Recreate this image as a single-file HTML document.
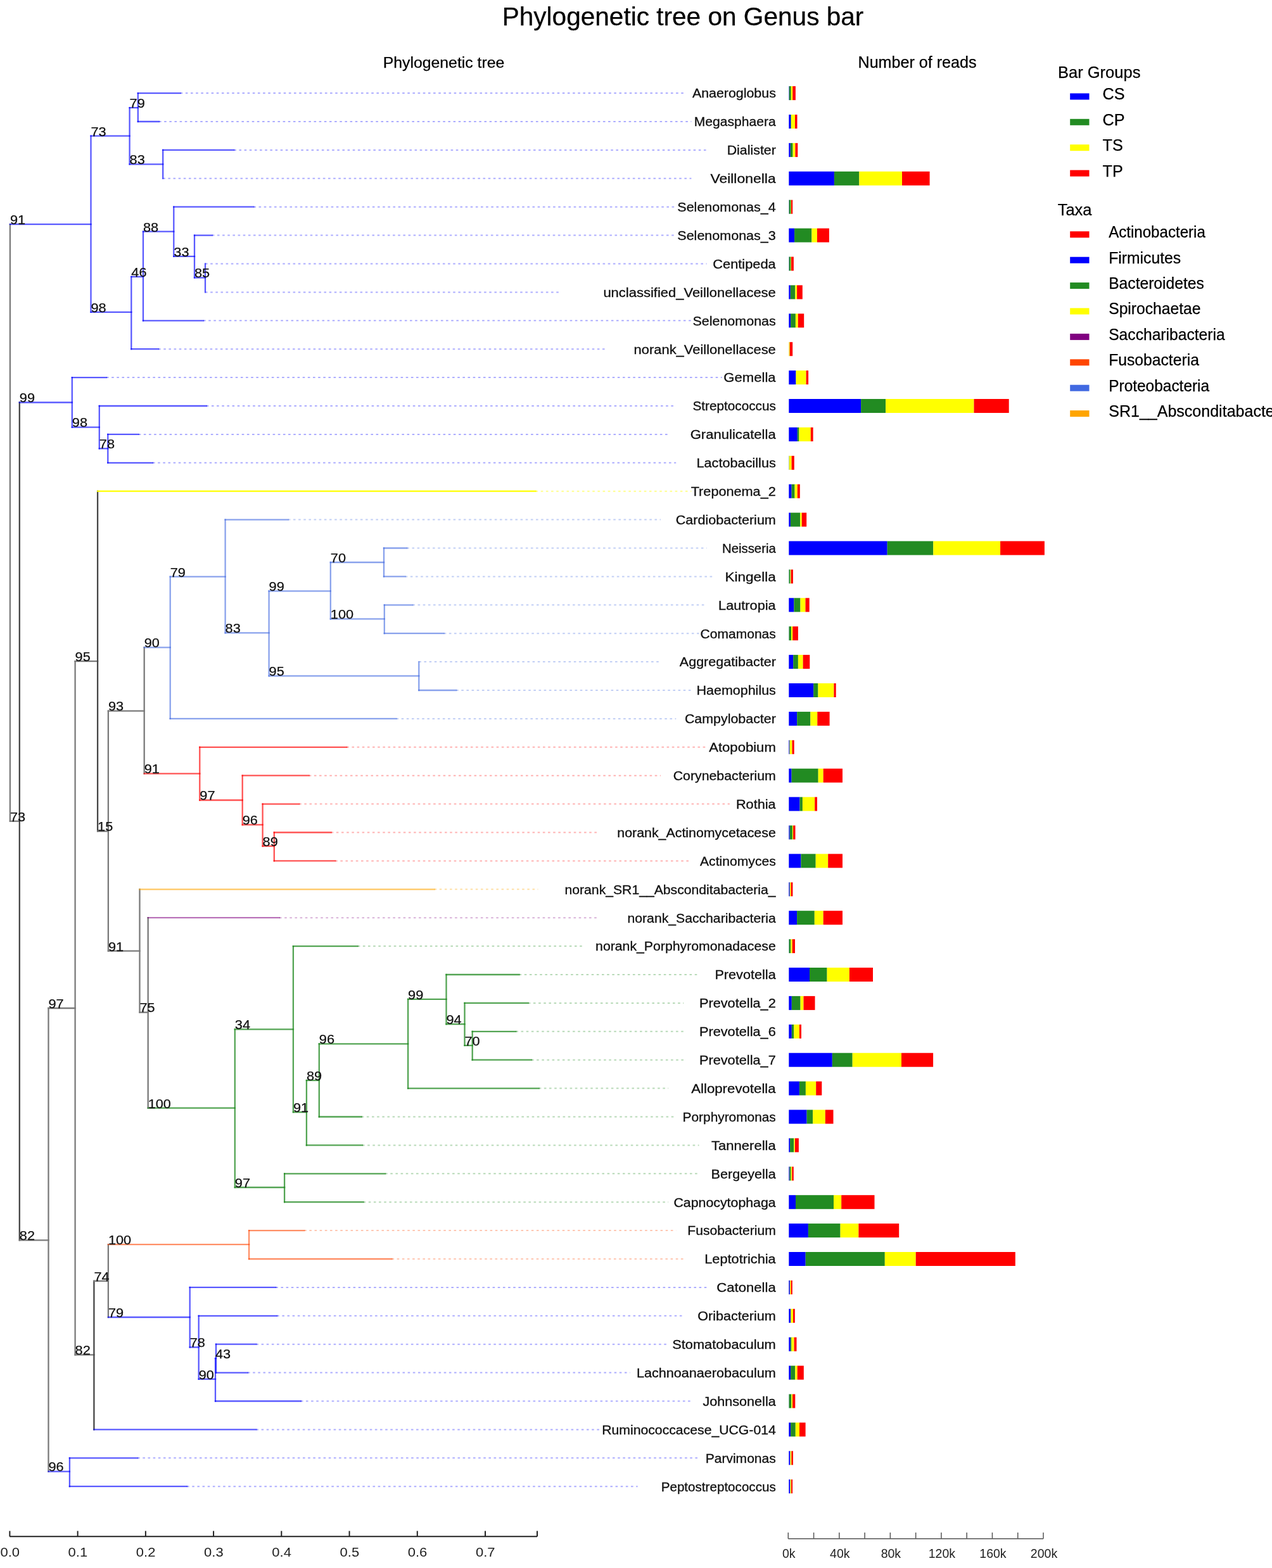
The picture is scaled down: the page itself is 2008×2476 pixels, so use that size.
<!DOCTYPE html>
<html><head><meta charset="utf-8"><title>Phylogenetic tree on Genus bar</title>
<style>html,body{margin:0;padding:0;background:#fff;width:2008px;height:2476px;overflow:hidden}svg{display:block}</style>
</head><body>
<svg width="2008" height="2476" viewBox="0 0 2008 2476">
<rect width="100%" height="100%" fill="#fff"/>
<g font-family="Liberation Sans, Arial, sans-serif" fill="#000" stroke="#000" stroke-width="0.25">
<text x="1078" y="39.6" font-size="40.6" text-anchor="middle">Phylogenetic tree on Genus bar</text>
<text x="700.5" y="106.6" font-size="24.8" text-anchor="middle">Phylogenetic tree</text>
<text x="1448" y="106.6" font-size="25.1" text-anchor="middle">Number of reads</text>
</g>
<g stroke-width="2" stroke-dasharray="3.6 4.55" fill="none">
<line x1="284.7" y1="147.1" x2="1079.3" y2="147.1" stroke="rgba(0,0,255,0.32)"/>
<line x1="251" y1="192" x2="1091.4" y2="192" stroke="rgba(0,0,255,0.32)"/>
<line x1="369.3" y1="236.9" x2="1115.6" y2="236.9" stroke="rgba(0,0,255,0.32)"/>
<line x1="257.2" y1="281.8" x2="1091.4" y2="281.8" stroke="rgba(0,0,255,0.32)"/>
<line x1="400.4" y1="326.7" x2="1067.2" y2="326.7" stroke="rgba(0,0,255,0.32)"/>
<line x1="334.8" y1="371.6" x2="1067.2" y2="371.6" stroke="rgba(0,0,255,0.32)"/>
<line x1="324" y1="416.5" x2="1115.6" y2="416.5" stroke="rgba(0,0,255,0.32)"/>
<line x1="324" y1="461.4" x2="885.7" y2="461.4" stroke="rgba(0,0,255,0.32)"/>
<line x1="321" y1="506.3" x2="1091.4" y2="506.3" stroke="rgba(0,0,255,0.32)"/>
<line x1="250.1" y1="551.2" x2="958.3" y2="551.2" stroke="rgba(0,0,255,0.32)"/>
<line x1="168" y1="596.1" x2="1139.8" y2="596.1" stroke="rgba(0,0,255,0.32)"/>
<line x1="325.8" y1="641" x2="1067.2" y2="641" stroke="rgba(0,0,255,0.32)"/>
<line x1="218.7" y1="685.9" x2="1055.1" y2="685.9" stroke="rgba(0,0,255,0.32)"/>
<line x1="241" y1="730.8" x2="1067.2" y2="730.8" stroke="rgba(0,0,255,0.32)"/>
<line x1="845.6" y1="775.7" x2="1091.4" y2="775.7" stroke="rgba(255,255,0,0.45)"/>
<line x1="454.8" y1="820.6" x2="1043" y2="820.6" stroke="rgba(65,105,225,0.32)"/>
<line x1="642.3" y1="865.5" x2="1115.6" y2="865.5" stroke="rgba(65,105,225,0.32)"/>
<line x1="639.7" y1="910.4" x2="1127.7" y2="910.4" stroke="rgba(65,105,225,0.32)"/>
<line x1="651.4" y1="955.3" x2="1115.6" y2="955.3" stroke="rgba(65,105,225,0.32)"/>
<line x1="700.7" y1="1000.2" x2="1115.6" y2="1000.2" stroke="rgba(65,105,225,0.32)"/>
<line x1="661.3" y1="1045.1" x2="1043" y2="1045.1" stroke="rgba(65,105,225,0.32)"/>
<line x1="720.1" y1="1090" x2="1091.4" y2="1090" stroke="rgba(65,105,225,0.32)"/>
<line x1="625.5" y1="1134.9" x2="1067.2" y2="1134.9" stroke="rgba(65,105,225,0.32)"/>
<line x1="547.3" y1="1179.8" x2="1115.6" y2="1179.8" stroke="rgba(255,0,0,0.3)"/>
<line x1="487.7" y1="1224.7" x2="1043" y2="1224.7" stroke="rgba(255,0,0,0.3)"/>
<line x1="472.2" y1="1269.6" x2="1151.9" y2="1269.6" stroke="rgba(255,0,0,0.3)"/>
<line x1="522.7" y1="1314.5" x2="946.2" y2="1314.5" stroke="rgba(255,0,0,0.3)"/>
<line x1="529.2" y1="1359.4" x2="1091.4" y2="1359.4" stroke="rgba(255,0,0,0.3)"/>
<line x1="685.6" y1="1404.3" x2="849.4" y2="1404.3" stroke="rgba(255,165,0,0.35)"/>
<line x1="441" y1="1449.2" x2="946.2" y2="1449.2" stroke="rgba(128,0,128,0.3)"/>
<line x1="564.7" y1="1494.1" x2="922" y2="1494.1" stroke="rgba(34,139,34,0.32)"/>
<line x1="819.6" y1="1539" x2="1103.5" y2="1539" stroke="rgba(34,139,34,0.32)"/>
<line x1="833.8" y1="1583.9" x2="1079.3" y2="1583.9" stroke="rgba(34,139,34,0.32)"/>
<line x1="814.4" y1="1628.8" x2="1079.3" y2="1628.8" stroke="rgba(34,139,34,0.32)"/>
<line x1="839" y1="1673.7" x2="1079.3" y2="1673.7" stroke="rgba(34,139,34,0.32)"/>
<line x1="850.7" y1="1718.6" x2="1055.1" y2="1718.6" stroke="rgba(34,139,34,0.32)"/>
<line x1="570.7" y1="1763.5" x2="1067.2" y2="1763.5" stroke="rgba(34,139,34,0.32)"/>
<line x1="572" y1="1808.4" x2="1103.5" y2="1808.4" stroke="rgba(34,139,34,0.32)"/>
<line x1="608.1" y1="1853.3" x2="1103.5" y2="1853.3" stroke="rgba(34,139,34,0.32)"/>
<line x1="573.6" y1="1898.2" x2="1055.1" y2="1898.2" stroke="rgba(34,139,34,0.32)"/>
<line x1="480.2" y1="1943.1" x2="1067.2" y2="1943.1" stroke="rgba(255,69,0,0.3)"/>
<line x1="618.5" y1="1988" x2="1079.3" y2="1988" stroke="rgba(255,69,0,0.3)"/>
<line x1="435.3" y1="2032.9" x2="1115.6" y2="2032.9" stroke="rgba(0,0,255,0.32)"/>
<line x1="437.2" y1="2077.8" x2="1079.3" y2="2077.8" stroke="rgba(0,0,255,0.32)"/>
<line x1="404.4" y1="2122.7" x2="1055.1" y2="2122.7" stroke="rgba(0,0,255,0.32)"/>
<line x1="391" y1="2167.6" x2="994.6" y2="2167.6" stroke="rgba(0,0,255,0.32)"/>
<line x1="474.8" y1="2212.5" x2="1091.4" y2="2212.5" stroke="rgba(0,0,255,0.32)"/>
<line x1="404.4" y1="2257.4" x2="946.2" y2="2257.4" stroke="rgba(0,0,255,0.32)"/>
<line x1="217.2" y1="2302.3" x2="1103.5" y2="2302.3" stroke="rgba(0,0,255,0.32)"/>
<line x1="295.1" y1="2347.2" x2="1006.7" y2="2347.2" stroke="rgba(0,0,255,0.32)"/>
</g>
<g stroke-width="2.3" fill="none" stroke-linecap="square">
<line x1="15.9" y1="354.1" x2="15.9" y2="1296.7" stroke="#7a7a7a"/>
<line x1="15.9" y1="354.1" x2="143.5" y2="354.1" stroke="rgba(0,0,255,0.65)"/>
<line x1="15.9" y1="1296.7" x2="30.8" y2="1296.7" stroke="#7a7a7a"/>
<line x1="143.5" y1="214.7" x2="143.5" y2="492.9" stroke="rgba(0,0,255,0.65)"/>
<line x1="143.5" y1="214.7" x2="204.6" y2="214.7" stroke="rgba(0,0,255,0.65)"/>
<line x1="143.5" y1="492.9" x2="207.3" y2="492.9" stroke="rgba(0,0,255,0.65)"/>
<line x1="204.6" y1="170.1" x2="204.6" y2="259.3" stroke="rgba(0,0,255,0.65)"/>
<line x1="204.6" y1="170.1" x2="217.8" y2="170.1" stroke="rgba(0,0,255,0.65)"/>
<line x1="204.6" y1="259.3" x2="257.2" y2="259.3" stroke="rgba(0,0,255,0.65)"/>
<line x1="217.8" y1="147.1" x2="217.8" y2="192" stroke="rgba(0,0,255,0.65)"/>
<line x1="217.8" y1="147.1" x2="284.7" y2="147.1" stroke="rgba(0,0,255,0.65)"/>
<line x1="217.8" y1="192" x2="251" y2="192" stroke="rgba(0,0,255,0.65)"/>
<line x1="257.2" y1="236.9" x2="257.2" y2="281.8" stroke="rgba(0,0,255,0.65)"/>
<line x1="257.2" y1="236.9" x2="369.3" y2="236.9" stroke="rgba(0,0,255,0.65)"/>
<line x1="207.3" y1="437" x2="207.3" y2="551.2" stroke="rgba(0,0,255,0.65)"/>
<line x1="207.3" y1="437" x2="226" y2="437" stroke="rgba(0,0,255,0.65)"/>
<line x1="207.3" y1="551.2" x2="250.1" y2="551.2" stroke="rgba(0,0,255,0.65)"/>
<line x1="226" y1="365.7" x2="226" y2="506.3" stroke="rgba(0,0,255,0.65)"/>
<line x1="226" y1="365.7" x2="274.3" y2="365.7" stroke="rgba(0,0,255,0.65)"/>
<line x1="226" y1="506.3" x2="321" y2="506.3" stroke="rgba(0,0,255,0.65)"/>
<line x1="274.3" y1="326.7" x2="274.3" y2="404.9" stroke="rgba(0,0,255,0.65)"/>
<line x1="274.3" y1="326.7" x2="400.4" y2="326.7" stroke="rgba(0,0,255,0.65)"/>
<line x1="274.3" y1="404.9" x2="307" y2="404.9" stroke="rgba(0,0,255,0.65)"/>
<line x1="307" y1="371.6" x2="307" y2="438.5" stroke="rgba(0,0,255,0.65)"/>
<line x1="307" y1="371.6" x2="334.8" y2="371.6" stroke="rgba(0,0,255,0.65)"/>
<line x1="307" y1="438.5" x2="324" y2="438.5" stroke="rgba(0,0,255,0.65)"/>
<line x1="324" y1="416.5" x2="324" y2="461.4" stroke="rgba(0,0,255,0.65)"/>
<line x1="30.8" y1="635.5" x2="30.8" y2="1958.4" stroke="#454545"/>
<line x1="30.8" y1="635.5" x2="113.8" y2="635.5" stroke="rgba(0,0,255,0.65)"/>
<line x1="30.8" y1="1958.4" x2="76.5" y2="1958.4" stroke="#7a7a7a"/>
<line x1="113.8" y1="596.1" x2="113.8" y2="674.6" stroke="rgba(0,0,255,0.65)"/>
<line x1="113.8" y1="596.1" x2="168" y2="596.1" stroke="rgba(0,0,255,0.65)"/>
<line x1="113.8" y1="674.6" x2="156.8" y2="674.6" stroke="rgba(0,0,255,0.65)"/>
<line x1="156.8" y1="641" x2="156.8" y2="708.3" stroke="rgba(0,0,255,0.65)"/>
<line x1="156.8" y1="641" x2="325.8" y2="641" stroke="rgba(0,0,255,0.65)"/>
<line x1="156.8" y1="708.3" x2="170.3" y2="708.3" stroke="rgba(0,0,255,0.65)"/>
<line x1="170.3" y1="685.9" x2="170.3" y2="730.8" stroke="rgba(0,0,255,0.65)"/>
<line x1="170.3" y1="685.9" x2="218.7" y2="685.9" stroke="rgba(0,0,255,0.65)"/>
<line x1="170.3" y1="730.8" x2="241" y2="730.8" stroke="rgba(0,0,255,0.65)"/>
<line x1="76.5" y1="1592" x2="76.5" y2="2323.6" stroke="#7a7a7a"/>
<line x1="76.5" y1="1592" x2="118.6" y2="1592" stroke="#7a7a7a"/>
<line x1="76.5" y1="2323.6" x2="109.9" y2="2323.6" stroke="rgba(0,0,255,0.65)"/>
<line x1="118.6" y1="1044.1" x2="118.6" y2="2139.4" stroke="#7a7a7a"/>
<line x1="118.6" y1="1044.1" x2="154.1" y2="1044.1" stroke="#7a7a7a"/>
<line x1="118.6" y1="2139.4" x2="148.4" y2="2139.4" stroke="#7a7a7a"/>
<line x1="154.1" y1="775.7" x2="154.1" y2="1312.6" stroke="#454545"/>
<line x1="154.1" y1="775.7" x2="845.6" y2="775.7" stroke="rgba(255,255,0,1)"/>
<line x1="154.1" y1="1312.6" x2="170.9" y2="1312.6" stroke="#7a7a7a"/>
<line x1="170.9" y1="1122.6" x2="170.9" y2="1501.7" stroke="#7a7a7a"/>
<line x1="170.9" y1="1122.6" x2="227.7" y2="1122.6" stroke="#7a7a7a"/>
<line x1="170.9" y1="1501.7" x2="220.5" y2="1501.7" stroke="#7a7a7a"/>
<line x1="227.7" y1="1022.4" x2="227.7" y2="1221.6" stroke="#7a7a7a"/>
<line x1="227.7" y1="1022.4" x2="268.7" y2="1022.4" stroke="rgba(65,105,225,0.62)"/>
<line x1="227.7" y1="1221.6" x2="315.3" y2="1221.6" stroke="rgba(255,0,0,0.68)"/>
<line x1="268.7" y1="910.7" x2="268.7" y2="1134.9" stroke="rgba(65,105,225,0.62)"/>
<line x1="268.7" y1="910.7" x2="355.6" y2="910.7" stroke="rgba(65,105,225,0.62)"/>
<line x1="268.7" y1="1134.9" x2="625.5" y2="1134.9" stroke="rgba(65,105,225,0.62)"/>
<line x1="355.6" y1="820.6" x2="355.6" y2="999.4" stroke="rgba(65,105,225,0.62)"/>
<line x1="355.6" y1="820.6" x2="454.8" y2="820.6" stroke="rgba(65,105,225,0.62)"/>
<line x1="355.6" y1="999.4" x2="424.6" y2="999.4" stroke="rgba(65,105,225,0.62)"/>
<line x1="424.6" y1="933.3" x2="424.6" y2="1067.3" stroke="rgba(65,105,225,0.62)"/>
<line x1="424.6" y1="933.3" x2="521.8" y2="933.3" stroke="rgba(65,105,225,0.62)"/>
<line x1="424.6" y1="1067.3" x2="661.3" y2="1067.3" stroke="rgba(65,105,225,0.62)"/>
<line x1="521.8" y1="888" x2="521.8" y2="977.4" stroke="rgba(65,105,225,0.62)"/>
<line x1="521.8" y1="888" x2="606" y2="888" stroke="rgba(65,105,225,0.62)"/>
<line x1="521.8" y1="977.4" x2="606.8" y2="977.4" stroke="rgba(65,105,225,0.62)"/>
<line x1="606" y1="865.5" x2="606" y2="910.4" stroke="rgba(65,105,225,0.62)"/>
<line x1="606" y1="865.5" x2="642.3" y2="865.5" stroke="rgba(65,105,225,0.62)"/>
<line x1="606" y1="910.4" x2="639.7" y2="910.4" stroke="rgba(65,105,225,0.62)"/>
<line x1="606.8" y1="955.3" x2="606.8" y2="1000.2" stroke="rgba(65,105,225,0.62)"/>
<line x1="606.8" y1="955.3" x2="651.4" y2="955.3" stroke="rgba(65,105,225,0.62)"/>
<line x1="606.8" y1="1000.2" x2="700.7" y2="1000.2" stroke="rgba(65,105,225,0.62)"/>
<line x1="661.3" y1="1045.1" x2="661.3" y2="1090" stroke="rgba(65,105,225,0.62)"/>
<line x1="661.3" y1="1090" x2="720.1" y2="1090" stroke="rgba(65,105,225,0.62)"/>
<line x1="315.3" y1="1179.8" x2="315.3" y2="1263.5" stroke="rgba(255,0,0,0.68)"/>
<line x1="315.3" y1="1179.8" x2="547.3" y2="1179.8" stroke="rgba(255,0,0,0.68)"/>
<line x1="315.3" y1="1263.5" x2="382.7" y2="1263.5" stroke="rgba(255,0,0,0.68)"/>
<line x1="382.7" y1="1224.7" x2="382.7" y2="1302.4" stroke="rgba(255,0,0,0.68)"/>
<line x1="382.7" y1="1224.7" x2="487.7" y2="1224.7" stroke="rgba(255,0,0,0.68)"/>
<line x1="382.7" y1="1302.4" x2="414.6" y2="1302.4" stroke="rgba(255,0,0,0.68)"/>
<line x1="414.6" y1="1269.6" x2="414.6" y2="1336.1" stroke="rgba(255,0,0,0.68)"/>
<line x1="414.6" y1="1269.6" x2="472.2" y2="1269.6" stroke="rgba(255,0,0,0.68)"/>
<line x1="414.6" y1="1336.1" x2="432.8" y2="1336.1" stroke="rgba(255,0,0,0.68)"/>
<line x1="432.8" y1="1314.5" x2="432.8" y2="1359.4" stroke="rgba(255,0,0,0.68)"/>
<line x1="432.8" y1="1314.5" x2="522.7" y2="1314.5" stroke="rgba(255,0,0,0.68)"/>
<line x1="432.8" y1="1359.4" x2="529.2" y2="1359.4" stroke="rgba(255,0,0,0.68)"/>
<line x1="220.5" y1="1404.3" x2="220.5" y2="1598.6" stroke="#7a7a7a"/>
<line x1="220.5" y1="1404.3" x2="685.6" y2="1404.3" stroke="rgba(255,165,0,0.62)"/>
<line x1="220.5" y1="1598.6" x2="233.7" y2="1598.6" stroke="#7a7a7a"/>
<line x1="233.7" y1="1449.2" x2="233.7" y2="1749.7" stroke="#7a7a7a"/>
<line x1="233.7" y1="1449.2" x2="441" y2="1449.2" stroke="rgba(128,0,128,0.55)"/>
<line x1="233.7" y1="1749.7" x2="370.8" y2="1749.7" stroke="rgba(34,139,34,0.78)"/>
<line x1="370.8" y1="1625.3" x2="370.8" y2="1875" stroke="rgba(34,139,34,0.78)"/>
<line x1="370.8" y1="1625.3" x2="462.9" y2="1625.3" stroke="rgba(34,139,34,0.78)"/>
<line x1="370.8" y1="1875" x2="449.1" y2="1875" stroke="rgba(34,139,34,0.78)"/>
<line x1="462.9" y1="1494.1" x2="462.9" y2="1756.2" stroke="rgba(34,139,34,0.78)"/>
<line x1="462.9" y1="1494.1" x2="564.7" y2="1494.1" stroke="rgba(34,139,34,0.78)"/>
<line x1="462.9" y1="1756.2" x2="483.9" y2="1756.2" stroke="rgba(34,139,34,0.78)"/>
<line x1="483.9" y1="1706" x2="483.9" y2="1808.4" stroke="rgba(34,139,34,0.78)"/>
<line x1="483.9" y1="1706" x2="503.8" y2="1706" stroke="rgba(34,139,34,0.78)"/>
<line x1="483.9" y1="1808.4" x2="572" y2="1808.4" stroke="rgba(34,139,34,0.78)"/>
<line x1="503.8" y1="1648.3" x2="503.8" y2="1763.5" stroke="rgba(34,139,34,0.78)"/>
<line x1="503.8" y1="1648.3" x2="644.1" y2="1648.3" stroke="rgba(34,139,34,0.78)"/>
<line x1="503.8" y1="1763.5" x2="570.7" y2="1763.5" stroke="rgba(34,139,34,0.78)"/>
<line x1="644.1" y1="1577.8" x2="644.1" y2="1718.6" stroke="rgba(34,139,34,0.78)"/>
<line x1="644.1" y1="1577.8" x2="704.5" y2="1577.8" stroke="rgba(34,139,34,0.78)"/>
<line x1="644.1" y1="1718.6" x2="850.7" y2="1718.6" stroke="rgba(34,139,34,0.78)"/>
<line x1="704.5" y1="1539" x2="704.5" y2="1617.2" stroke="rgba(34,139,34,0.78)"/>
<line x1="704.5" y1="1539" x2="819.6" y2="1539" stroke="rgba(34,139,34,0.78)"/>
<line x1="704.5" y1="1617.2" x2="733.5" y2="1617.2" stroke="rgba(34,139,34,0.78)"/>
<line x1="733.5" y1="1583.9" x2="733.5" y2="1650.9" stroke="rgba(34,139,34,0.78)"/>
<line x1="733.5" y1="1583.9" x2="833.8" y2="1583.9" stroke="rgba(34,139,34,0.78)"/>
<line x1="733.5" y1="1650.9" x2="745.7" y2="1650.9" stroke="rgba(34,139,34,0.78)"/>
<line x1="745.7" y1="1628.8" x2="745.7" y2="1673.7" stroke="rgba(34,139,34,0.78)"/>
<line x1="745.7" y1="1628.8" x2="814.4" y2="1628.8" stroke="rgba(34,139,34,0.78)"/>
<line x1="745.7" y1="1673.7" x2="839" y2="1673.7" stroke="rgba(34,139,34,0.78)"/>
<line x1="449.1" y1="1853.3" x2="449.1" y2="1898.2" stroke="rgba(34,139,34,0.78)"/>
<line x1="449.1" y1="1853.3" x2="608.1" y2="1853.3" stroke="rgba(34,139,34,0.78)"/>
<line x1="449.1" y1="1898.2" x2="573.6" y2="1898.2" stroke="rgba(34,139,34,0.78)"/>
<line x1="148.4" y1="2022.8" x2="148.4" y2="2257.4" stroke="#454545"/>
<line x1="148.4" y1="2022.8" x2="170.9" y2="2022.8" stroke="#7a7a7a"/>
<line x1="148.4" y1="2257.4" x2="404.4" y2="2257.4" stroke="rgba(0,0,255,0.65)"/>
<line x1="170.9" y1="1965.2" x2="170.9" y2="2080" stroke="#7a7a7a"/>
<line x1="170.9" y1="1965.2" x2="393.1" y2="1965.2" stroke="rgba(255,69,0,0.6)"/>
<line x1="170.9" y1="2080" x2="299.7" y2="2080" stroke="rgba(0,0,255,0.65)"/>
<line x1="393.1" y1="1943.1" x2="393.1" y2="1988" stroke="rgba(255,69,0,0.6)"/>
<line x1="393.1" y1="1943.1" x2="480.2" y2="1943.1" stroke="rgba(255,69,0,0.6)"/>
<line x1="393.1" y1="1988" x2="618.5" y2="1988" stroke="rgba(255,69,0,0.6)"/>
<line x1="299.7" y1="2032.9" x2="299.7" y2="2127.4" stroke="rgba(0,0,255,0.65)"/>
<line x1="299.7" y1="2032.9" x2="435.3" y2="2032.9" stroke="rgba(0,0,255,0.65)"/>
<line x1="299.7" y1="2127.4" x2="313.7" y2="2127.4" stroke="rgba(0,0,255,0.65)"/>
<line x1="313.7" y1="2077.8" x2="313.7" y2="2177.7" stroke="rgba(0,0,255,0.65)"/>
<line x1="313.7" y1="2077.8" x2="437.2" y2="2077.8" stroke="rgba(0,0,255,0.65)"/>
<line x1="313.7" y1="2177.7" x2="340" y2="2177.7" stroke="rgba(0,0,255,0.65)"/>
<line x1="340" y1="2145" x2="340" y2="2212.5" stroke="rgba(0,0,255,0.65)"/>
<line x1="340" y1="2145" x2="341" y2="2145" stroke="rgba(0,0,255,0.65)"/>
<line x1="340" y1="2212.5" x2="474.8" y2="2212.5" stroke="rgba(0,0,255,0.65)"/>
<line x1="341" y1="2122.7" x2="341" y2="2167.6" stroke="rgba(0,0,255,0.65)"/>
<line x1="341" y1="2122.7" x2="404.4" y2="2122.7" stroke="rgba(0,0,255,0.65)"/>
<line x1="341" y1="2167.6" x2="391" y2="2167.6" stroke="rgba(0,0,255,0.65)"/>
<line x1="109.9" y1="2302.3" x2="109.9" y2="2347.2" stroke="rgba(0,0,255,0.65)"/>
<line x1="109.9" y1="2302.3" x2="217.2" y2="2302.3" stroke="rgba(0,0,255,0.65)"/>
<line x1="109.9" y1="2347.2" x2="295.1" y2="2347.2" stroke="rgba(0,0,255,0.65)"/>
</g>
<g font-family="Liberation Sans, Arial, sans-serif" font-size="20.5" fill="#111" stroke="#111" stroke-width="0.25">
<text x="15.9" y="353.9" textLength="24.17" lengthAdjust="spacingAndGlyphs">91</text>
<text x="15.9" y="1296.5" textLength="24.17" lengthAdjust="spacingAndGlyphs">73</text>
<text x="143.5" y="214.5" textLength="24.17" lengthAdjust="spacingAndGlyphs">73</text>
<text x="143.5" y="492.7" textLength="24.17" lengthAdjust="spacingAndGlyphs">98</text>
<text x="204.6" y="169.9" textLength="24.17" lengthAdjust="spacingAndGlyphs">79</text>
<text x="204.6" y="259.1" textLength="24.17" lengthAdjust="spacingAndGlyphs">83</text>
<text x="207.3" y="436.8" textLength="24.17" lengthAdjust="spacingAndGlyphs">46</text>
<text x="226" y="365.5" textLength="24.17" lengthAdjust="spacingAndGlyphs">88</text>
<text x="274.3" y="404.7" textLength="24.17" lengthAdjust="spacingAndGlyphs">33</text>
<text x="307" y="438.3" textLength="24.17" lengthAdjust="spacingAndGlyphs">85</text>
<text x="30.8" y="635.3" textLength="24.17" lengthAdjust="spacingAndGlyphs">99</text>
<text x="30.8" y="1958.2" textLength="24.17" lengthAdjust="spacingAndGlyphs">82</text>
<text x="113.8" y="674.4" textLength="24.17" lengthAdjust="spacingAndGlyphs">98</text>
<text x="156.8" y="708.1" textLength="24.17" lengthAdjust="spacingAndGlyphs">78</text>
<text x="76.5" y="1591.8" textLength="24.17" lengthAdjust="spacingAndGlyphs">97</text>
<text x="76.5" y="2323.4" textLength="24.17" lengthAdjust="spacingAndGlyphs">96</text>
<text x="118.6" y="1043.9" textLength="24.17" lengthAdjust="spacingAndGlyphs">95</text>
<text x="118.6" y="2139.2" textLength="24.17" lengthAdjust="spacingAndGlyphs">82</text>
<text x="154.1" y="1312.4" textLength="24.17" lengthAdjust="spacingAndGlyphs">15</text>
<text x="170.9" y="1122.4" textLength="24.17" lengthAdjust="spacingAndGlyphs">93</text>
<text x="170.9" y="1501.5" textLength="24.17" lengthAdjust="spacingAndGlyphs">91</text>
<text x="227.7" y="1022.2" textLength="24.17" lengthAdjust="spacingAndGlyphs">90</text>
<text x="227.7" y="1221.4" textLength="24.17" lengthAdjust="spacingAndGlyphs">91</text>
<text x="268.7" y="910.5" textLength="24.17" lengthAdjust="spacingAndGlyphs">79</text>
<text x="355.6" y="999.2" textLength="24.17" lengthAdjust="spacingAndGlyphs">83</text>
<text x="424.6" y="933.1" textLength="24.17" lengthAdjust="spacingAndGlyphs">99</text>
<text x="424.6" y="1067.1" textLength="24.17" lengthAdjust="spacingAndGlyphs">95</text>
<text x="521.8" y="887.8" textLength="24.17" lengthAdjust="spacingAndGlyphs">70</text>
<text x="521.8" y="977.2" textLength="36.26" lengthAdjust="spacingAndGlyphs">100</text>
<text x="315.3" y="1263.3" textLength="24.17" lengthAdjust="spacingAndGlyphs">97</text>
<text x="382.7" y="1302.2" textLength="24.17" lengthAdjust="spacingAndGlyphs">96</text>
<text x="414.6" y="1335.9" textLength="24.17" lengthAdjust="spacingAndGlyphs">89</text>
<text x="220.5" y="1598.4" textLength="24.17" lengthAdjust="spacingAndGlyphs">75</text>
<text x="233.7" y="1749.5" textLength="36.26" lengthAdjust="spacingAndGlyphs">100</text>
<text x="370.8" y="1625.1" textLength="24.17" lengthAdjust="spacingAndGlyphs">34</text>
<text x="370.8" y="1874.8" textLength="24.17" lengthAdjust="spacingAndGlyphs">97</text>
<text x="462.9" y="1756" textLength="24.17" lengthAdjust="spacingAndGlyphs">91</text>
<text x="483.9" y="1705.8" textLength="24.17" lengthAdjust="spacingAndGlyphs">89</text>
<text x="503.8" y="1648.1" textLength="24.17" lengthAdjust="spacingAndGlyphs">96</text>
<text x="644.1" y="1577.6" textLength="24.17" lengthAdjust="spacingAndGlyphs">99</text>
<text x="704.5" y="1617" textLength="24.17" lengthAdjust="spacingAndGlyphs">94</text>
<text x="733.5" y="1650.7" textLength="24.17" lengthAdjust="spacingAndGlyphs">70</text>
<text x="148.4" y="2022.6" textLength="24.17" lengthAdjust="spacingAndGlyphs">74</text>
<text x="170.9" y="1965" textLength="36.26" lengthAdjust="spacingAndGlyphs">100</text>
<text x="170.9" y="2079.8" textLength="24.17" lengthAdjust="spacingAndGlyphs">79</text>
<text x="299.7" y="2127.2" textLength="24.17" lengthAdjust="spacingAndGlyphs">78</text>
<text x="313.7" y="2177.5" textLength="24.17" lengthAdjust="spacingAndGlyphs">90</text>
<text x="340" y="2144.8" textLength="24.17" lengthAdjust="spacingAndGlyphs">43</text>
</g>
<g font-family="Liberation Sans, Arial, sans-serif" font-size="19.5" fill="#111" stroke="#111" stroke-width="0.3" text-anchor="end">
<text x="1224.84" y="154.4" textLength="131.94" lengthAdjust="spacingAndGlyphs">Anaeroglobus</text>
<text x="1224.7" y="199.3" textLength="128.9" lengthAdjust="spacingAndGlyphs">Megasphaera</text>
<text x="1224.84" y="244.2" textLength="77.14" lengthAdjust="spacingAndGlyphs">Dialister</text>
<text x="1224.65" y="289.1" textLength="103.25" lengthAdjust="spacingAndGlyphs">Veillonella</text>
<text x="1224.75" y="334" textLength="155.45" lengthAdjust="spacingAndGlyphs">Selenomonas_4</text>
<text x="1224.75" y="378.9" textLength="155.45" lengthAdjust="spacingAndGlyphs">Selenomonas_3</text>
<text x="1224.67" y="423.8" textLength="99.37" lengthAdjust="spacingAndGlyphs">Centipeda</text>
<text x="1224.85" y="468.7" textLength="272.45" lengthAdjust="spacingAndGlyphs">unclassified_Veillonellacese</text>
<text x="1224.81" y="513.6" textLength="131.41" lengthAdjust="spacingAndGlyphs">Selenomonas</text>
<text x="1224.8" y="558.5" textLength="224.2" lengthAdjust="spacingAndGlyphs">norank_Veillonellacese</text>
<text x="1224.66" y="603.4" textLength="82.46" lengthAdjust="spacingAndGlyphs">Gemella</text>
<text x="1224.83" y="648.3" textLength="131.43" lengthAdjust="spacingAndGlyphs">Streptococcus</text>
<text x="1224.68" y="693.2" textLength="134.98" lengthAdjust="spacingAndGlyphs">Granulicatella</text>
<text x="1224.83" y="738.1" textLength="125.33" lengthAdjust="spacingAndGlyphs">Lactobacillus</text>
<text x="1224.78" y="783" textLength="134.08" lengthAdjust="spacingAndGlyphs">Treponema_2</text>
<text x="1224.84" y="827.9" textLength="158.14" lengthAdjust="spacingAndGlyphs">Cardiobacterium</text>
<text x="1224.76" y="872.8" textLength="84.76" lengthAdjust="spacingAndGlyphs">Neisseria</text>
<text x="1224.76" y="917.7" textLength="80.36" lengthAdjust="spacingAndGlyphs">Kingella</text>
<text x="1224.69" y="962.6" textLength="90.59" lengthAdjust="spacingAndGlyphs">Lautropia</text>
<text x="1224.78" y="1007.5" textLength="119.18" lengthAdjust="spacingAndGlyphs">Comamonas</text>
<text x="1224.81" y="1052.4" textLength="152.01" lengthAdjust="spacingAndGlyphs">Aggregatibacter</text>
<text x="1224.84" y="1097.3" textLength="125.34" lengthAdjust="spacingAndGlyphs">Haemophilus</text>
<text x="1224.81" y="1142.2" textLength="143.91" lengthAdjust="spacingAndGlyphs">Campylobacter</text>
<text x="1224.82" y="1187.1" textLength="105.62" lengthAdjust="spacingAndGlyphs">Atopobium</text>
<text x="1224.79" y="1232" textLength="162.09" lengthAdjust="spacingAndGlyphs">Corynebacterium</text>
<text x="1224.71" y="1276.9" textLength="62.81" lengthAdjust="spacingAndGlyphs">Rothia</text>
<text x="1224.77" y="1321.8" textLength="250.47" lengthAdjust="spacingAndGlyphs">norank_Actinomycetacese</text>
<text x="1224.77" y="1366.7" textLength="119.77" lengthAdjust="spacingAndGlyphs">Actinomyces</text>
<text x="1224.56" y="1411.6" textLength="333.06" lengthAdjust="spacingAndGlyphs">norank_SR1__Absconditabacteria_</text>
<text x="1224.75" y="1456.5" textLength="234.25" lengthAdjust="spacingAndGlyphs">norank_Saccharibacteria</text>
<text x="1224.76" y="1501.4" textLength="284.66" lengthAdjust="spacingAndGlyphs">norank_Porphyromonadacese</text>
<text x="1224.73" y="1546.3" textLength="96.33" lengthAdjust="spacingAndGlyphs">Prevotella</text>
<text x="1224.78" y="1591.2" textLength="120.88" lengthAdjust="spacingAndGlyphs">Prevotella_2</text>
<text x="1224.78" y="1636.1" textLength="120.88" lengthAdjust="spacingAndGlyphs">Prevotella_6</text>
<text x="1224.78" y="1681" textLength="120.88" lengthAdjust="spacingAndGlyphs">Prevotella_7</text>
<text x="1224.66" y="1725.9" textLength="133.46" lengthAdjust="spacingAndGlyphs">Alloprevotella</text>
<text x="1224.79" y="1770.8" textLength="147.19" lengthAdjust="spacingAndGlyphs">Porphyromonas</text>
<text x="1224.68" y="1815.7" textLength="101.58" lengthAdjust="spacingAndGlyphs">Tannerella</text>
<text x="1224.7" y="1860.6" textLength="102.2" lengthAdjust="spacingAndGlyphs">Bergeyella</text>
<text x="1224.73" y="1905.5" textLength="161.33" lengthAdjust="spacingAndGlyphs">Capnocytophaga</text>
<text x="1224.78" y="1950.4" textLength="139.48" lengthAdjust="spacingAndGlyphs">Fusobacterium</text>
<text x="1224.69" y="1995.3" textLength="112.49" lengthAdjust="spacingAndGlyphs">Leptotrichia</text>
<text x="1224.69" y="2040.2" textLength="93.39" lengthAdjust="spacingAndGlyphs">Catonella</text>
<text x="1224.77" y="2085.1" textLength="123.47" lengthAdjust="spacingAndGlyphs">Oribacterium</text>
<text x="1224.78" y="2130" textLength="163.58" lengthAdjust="spacingAndGlyphs">Stomatobaculum</text>
<text x="1224.79" y="2174.9" textLength="219.89" lengthAdjust="spacingAndGlyphs">Lachnoanaerobaculum</text>
<text x="1224.75" y="2219.8" textLength="115.35" lengthAdjust="spacingAndGlyphs">Johnsonella</text>
<text x="1224.81" y="2264.7" textLength="274.61" lengthAdjust="spacingAndGlyphs">Ruminococcacese_UCG-014</text>
<text x="1224.8" y="2309.6" textLength="111.1" lengthAdjust="spacingAndGlyphs">Parvimonas</text>
<text x="1224.76" y="2354.5" textLength="181.06" lengthAdjust="spacingAndGlyphs">Peptostreptococcus</text>
</g>
<g>
<rect x="1245.3" y="136.1" width="0.5" height="22" fill="#0000FF"/>
<rect x="1245.8" y="136.1" width="3" height="22" fill="#228B22"/>
<rect x="1248.8" y="136.1" width="2.4" height="22" fill="#FFFF00"/>
<rect x="1251.2" y="136.1" width="4.7" height="22" fill="#FF0000"/>
<rect x="1245.3" y="181" width="3.1" height="22" fill="#0000FF"/>
<rect x="1248.4" y="181" width="0.6" height="22" fill="#228B22"/>
<rect x="1249" y="181" width="6" height="22" fill="#FFFF00"/>
<rect x="1255" y="181" width="3.5" height="22" fill="#FF0000"/>
<rect x="1245.3" y="225.9" width="2.5" height="22" fill="#0000FF"/>
<rect x="1247.8" y="225.9" width="3.8" height="22" fill="#228B22"/>
<rect x="1251.6" y="225.9" width="3.8" height="22" fill="#FFFF00"/>
<rect x="1255.4" y="225.9" width="3.9" height="22" fill="#FF0000"/>
<rect x="1245.3" y="270.8" width="71.6" height="22" fill="#0000FF"/>
<rect x="1316.9" y="270.8" width="39.5" height="22" fill="#228B22"/>
<rect x="1356.4" y="270.8" width="67.6" height="22" fill="#FFFF00"/>
<rect x="1424" y="270.8" width="43.6" height="22" fill="#FF0000"/>
<rect x="1245.3" y="315.7" width="0.3" height="22" fill="#0000FF"/>
<rect x="1245.6" y="315.7" width="2.9" height="22" fill="#228B22"/>
<rect x="1248.5" y="315.7" width="0.5" height="22" fill="#FFFF00"/>
<rect x="1249" y="315.7" width="2.2" height="22" fill="#FF0000"/>
<rect x="1245.3" y="360.6" width="8.8" height="22" fill="#0000FF"/>
<rect x="1254.1" y="360.6" width="27.3" height="22" fill="#228B22"/>
<rect x="1281.4" y="360.6" width="8.5" height="22" fill="#FFFF00"/>
<rect x="1289.9" y="360.6" width="19" height="22" fill="#FF0000"/>
<rect x="1245.3" y="405.5" width="0.3" height="22" fill="#0000FF"/>
<rect x="1245.6" y="405.5" width="2.8" height="22" fill="#228B22"/>
<rect x="1248.4" y="405.5" width="0.6" height="22" fill="#FFFF00"/>
<rect x="1249" y="405.5" width="3.9" height="22" fill="#FF0000"/>
<rect x="1245.3" y="450.4" width="2.5" height="22" fill="#0000FF"/>
<rect x="1247.8" y="450.4" width="7.6" height="22" fill="#228B22"/>
<rect x="1255.4" y="450.4" width="2.7" height="22" fill="#FFFF00"/>
<rect x="1258.1" y="450.4" width="8.7" height="22" fill="#FF0000"/>
<rect x="1245.3" y="495.3" width="2.8" height="22" fill="#0000FF"/>
<rect x="1248.1" y="495.3" width="7.8" height="22" fill="#228B22"/>
<rect x="1255.9" y="495.3" width="3.9" height="22" fill="#FFFF00"/>
<rect x="1259.8" y="495.3" width="9.4" height="22" fill="#FF0000"/>
<rect x="1245.3" y="540.2" width="0.2" height="22" fill="#228B22"/>
<rect x="1245.5" y="540.2" width="1.2" height="22" fill="#FFFF00"/>
<rect x="1246.7" y="540.2" width="4.5" height="22" fill="#FF0000"/>
<rect x="1245.3" y="585.1" width="11.1" height="22" fill="#0000FF"/>
<rect x="1256.4" y="585.1" width="0.2" height="22" fill="#228B22"/>
<rect x="1256.6" y="585.1" width="16" height="22" fill="#FFFF00"/>
<rect x="1272.6" y="585.1" width="3.5" height="22" fill="#FF0000"/>
<rect x="1245.3" y="630" width="113.8" height="22" fill="#0000FF"/>
<rect x="1359.1" y="630" width="39.1" height="22" fill="#228B22"/>
<rect x="1398.2" y="630" width="139.3" height="22" fill="#FFFF00"/>
<rect x="1537.5" y="630" width="55.2" height="22" fill="#FF0000"/>
<rect x="1245.3" y="674.9" width="13.5" height="22" fill="#0000FF"/>
<rect x="1258.8" y="674.9" width="2.7" height="22" fill="#228B22"/>
<rect x="1261.5" y="674.9" width="18.3" height="22" fill="#FFFF00"/>
<rect x="1279.8" y="674.9" width="3.8" height="22" fill="#FF0000"/>
<rect x="1245.3" y="719.8" width="0.2" height="22" fill="#0000FF"/>
<rect x="1245.5" y="719.8" width="0.3" height="22" fill="#228B22"/>
<rect x="1245.8" y="719.8" width="3.8" height="22" fill="#FFFF00"/>
<rect x="1249.6" y="719.8" width="4.2" height="22" fill="#FF0000"/>
<rect x="1245.3" y="764.7" width="4.3" height="22" fill="#0000FF"/>
<rect x="1249.6" y="764.7" width="5" height="22" fill="#228B22"/>
<rect x="1254.6" y="764.7" width="4.2" height="22" fill="#FFFF00"/>
<rect x="1258.8" y="764.7" width="4" height="22" fill="#FF0000"/>
<rect x="1245.3" y="809.6" width="2.6" height="22" fill="#0000FF"/>
<rect x="1247.9" y="809.6" width="15.3" height="22" fill="#228B22"/>
<rect x="1263.2" y="809.6" width="2.5" height="22" fill="#FFFF00"/>
<rect x="1265.7" y="809.6" width="7.5" height="22" fill="#FF0000"/>
<rect x="1245.3" y="854.5" width="155.4" height="22" fill="#0000FF"/>
<rect x="1400.7" y="854.5" width="72.6" height="22" fill="#228B22"/>
<rect x="1473.3" y="854.5" width="105.8" height="22" fill="#FFFF00"/>
<rect x="1579.1" y="854.5" width="69.8" height="22" fill="#FF0000"/>
<rect x="1245.3" y="899.4" width="0.2" height="22" fill="#0000FF"/>
<rect x="1245.5" y="899.4" width="2.1" height="22" fill="#228B22"/>
<rect x="1247.6" y="899.4" width="1" height="22" fill="#FFFF00"/>
<rect x="1248.6" y="899.4" width="3.3" height="22" fill="#FF0000"/>
<rect x="1245.3" y="944.3" width="8.1" height="22" fill="#0000FF"/>
<rect x="1253.4" y="944.3" width="10.1" height="22" fill="#228B22"/>
<rect x="1263.5" y="944.3" width="8" height="22" fill="#FFFF00"/>
<rect x="1271.5" y="944.3" width="6.2" height="22" fill="#FF0000"/>
<rect x="1245.3" y="989.2" width="0.2" height="22" fill="#0000FF"/>
<rect x="1245.5" y="989.2" width="3.5" height="22" fill="#228B22"/>
<rect x="1249" y="989.2" width="2.2" height="22" fill="#FFFF00"/>
<rect x="1251.2" y="989.2" width="8.7" height="22" fill="#FF0000"/>
<rect x="1245.3" y="1034.1" width="6.9" height="22" fill="#0000FF"/>
<rect x="1252.2" y="1034.1" width="7.7" height="22" fill="#228B22"/>
<rect x="1259.9" y="1034.1" width="7.7" height="22" fill="#FFFF00"/>
<rect x="1267.6" y="1034.1" width="10.7" height="22" fill="#FF0000"/>
<rect x="1245.3" y="1079" width="38.9" height="22" fill="#0000FF"/>
<rect x="1284.2" y="1079" width="7.3" height="22" fill="#228B22"/>
<rect x="1291.5" y="1079" width="24.9" height="22" fill="#FFFF00"/>
<rect x="1316.4" y="1079" width="3.3" height="22" fill="#FF0000"/>
<rect x="1245.3" y="1123.9" width="12.9" height="22" fill="#0000FF"/>
<rect x="1258.2" y="1123.9" width="21.2" height="22" fill="#228B22"/>
<rect x="1279.4" y="1123.9" width="10.9" height="22" fill="#FFFF00"/>
<rect x="1290.3" y="1123.9" width="19.3" height="22" fill="#FF0000"/>
<rect x="1245.3" y="1168.8" width="1" height="22" fill="#0000FF"/>
<rect x="1246.3" y="1168.8" width="0.5" height="22" fill="#228B22"/>
<rect x="1246.8" y="1168.8" width="3.7" height="22" fill="#FFFF00"/>
<rect x="1250.5" y="1168.8" width="3.2" height="22" fill="#FF0000"/>
<rect x="1245.3" y="1213.7" width="4.3" height="22" fill="#0000FF"/>
<rect x="1249.6" y="1213.7" width="42.1" height="22" fill="#228B22"/>
<rect x="1291.7" y="1213.7" width="8" height="22" fill="#FFFF00"/>
<rect x="1299.7" y="1213.7" width="30.3" height="22" fill="#FF0000"/>
<rect x="1245.3" y="1258.6" width="17.2" height="22" fill="#0000FF"/>
<rect x="1262.5" y="1258.6" width="4.4" height="22" fill="#228B22"/>
<rect x="1266.9" y="1258.6" width="19.3" height="22" fill="#FFFF00"/>
<rect x="1286.2" y="1258.6" width="3.8" height="22" fill="#FF0000"/>
<rect x="1245.3" y="1303.5" width="1.4" height="22" fill="#0000FF"/>
<rect x="1246.7" y="1303.5" width="4.2" height="22" fill="#228B22"/>
<rect x="1250.9" y="1303.5" width="1.2" height="22" fill="#FFFF00"/>
<rect x="1252.1" y="1303.5" width="3.4" height="22" fill="#FF0000"/>
<rect x="1245.3" y="1348.4" width="19.1" height="22" fill="#0000FF"/>
<rect x="1264.4" y="1348.4" width="23.3" height="22" fill="#228B22"/>
<rect x="1287.7" y="1348.4" width="19.5" height="22" fill="#FFFF00"/>
<rect x="1307.2" y="1348.4" width="22.8" height="22" fill="#FF0000"/>
<rect x="1245.3" y="1393.3" width="1.4" height="22" fill="#0000FF"/>
<rect x="1246.7" y="1393.3" width="0.3" height="22" fill="#228B22"/>
<rect x="1247" y="1393.3" width="1.6" height="22" fill="#FFFF00"/>
<rect x="1248.6" y="1393.3" width="2.8" height="22" fill="#FF0000"/>
<rect x="1245.3" y="1438.2" width="12.8" height="22" fill="#0000FF"/>
<rect x="1258.1" y="1438.2" width="27.7" height="22" fill="#228B22"/>
<rect x="1285.8" y="1438.2" width="13.9" height="22" fill="#FFFF00"/>
<rect x="1299.7" y="1438.2" width="30.3" height="22" fill="#FF0000"/>
<rect x="1245.3" y="1483.1" width="0.2" height="22" fill="#0000FF"/>
<rect x="1245.5" y="1483.1" width="2.9" height="22" fill="#228B22"/>
<rect x="1248.4" y="1483.1" width="2.3" height="22" fill="#FFFF00"/>
<rect x="1250.7" y="1483.1" width="4.3" height="22" fill="#FF0000"/>
<rect x="1245.3" y="1528" width="32.7" height="22" fill="#0000FF"/>
<rect x="1278" y="1528" width="27.6" height="22" fill="#228B22"/>
<rect x="1305.6" y="1528" width="35.3" height="22" fill="#FFFF00"/>
<rect x="1340.9" y="1528" width="37.1" height="22" fill="#FF0000"/>
<rect x="1245.3" y="1572.9" width="4.5" height="22" fill="#0000FF"/>
<rect x="1249.8" y="1572.9" width="13.8" height="22" fill="#228B22"/>
<rect x="1263.6" y="1572.9" width="4.9" height="22" fill="#FFFF00"/>
<rect x="1268.5" y="1572.9" width="18" height="22" fill="#FF0000"/>
<rect x="1245.3" y="1617.8" width="4.5" height="22" fill="#0000FF"/>
<rect x="1249.8" y="1617.8" width="3.5" height="22" fill="#228B22"/>
<rect x="1253.3" y="1617.8" width="8.6" height="22" fill="#FFFF00"/>
<rect x="1261.9" y="1617.8" width="3.1" height="22" fill="#FF0000"/>
<rect x="1245.3" y="1662.7" width="68.5" height="22" fill="#0000FF"/>
<rect x="1313.8" y="1662.7" width="31.9" height="22" fill="#228B22"/>
<rect x="1345.7" y="1662.7" width="77.3" height="22" fill="#FFFF00"/>
<rect x="1423" y="1662.7" width="50.1" height="22" fill="#FF0000"/>
<rect x="1245.3" y="1707.6" width="16.6" height="22" fill="#0000FF"/>
<rect x="1261.9" y="1707.6" width="10" height="22" fill="#228B22"/>
<rect x="1271.9" y="1707.6" width="16.3" height="22" fill="#FFFF00"/>
<rect x="1288.2" y="1707.6" width="9.1" height="22" fill="#FF0000"/>
<rect x="1245.3" y="1752.5" width="28.3" height="22" fill="#0000FF"/>
<rect x="1273.6" y="1752.5" width="9.6" height="22" fill="#228B22"/>
<rect x="1283.2" y="1752.5" width="19.6" height="22" fill="#FFFF00"/>
<rect x="1302.8" y="1752.5" width="12.7" height="22" fill="#FF0000"/>
<rect x="1245.3" y="1797.4" width="1.8" height="22" fill="#0000FF"/>
<rect x="1247.1" y="1797.4" width="6.2" height="22" fill="#228B22"/>
<rect x="1253.3" y="1797.4" width="1.6" height="22" fill="#FFFF00"/>
<rect x="1254.9" y="1797.4" width="6" height="22" fill="#FF0000"/>
<rect x="1245.3" y="1842.3" width="1.1" height="22" fill="#0000FF"/>
<rect x="1246.4" y="1842.3" width="2.3" height="22" fill="#228B22"/>
<rect x="1248.7" y="1842.3" width="1.6" height="22" fill="#FFFF00"/>
<rect x="1250.3" y="1842.3" width="2.5" height="22" fill="#FF0000"/>
<rect x="1245.3" y="1887.2" width="10.7" height="22" fill="#0000FF"/>
<rect x="1256" y="1887.2" width="60" height="22" fill="#228B22"/>
<rect x="1316" y="1887.2" width="12.2" height="22" fill="#FFFF00"/>
<rect x="1328.2" y="1887.2" width="52.3" height="22" fill="#FF0000"/>
<rect x="1245.3" y="1932.1" width="30.6" height="22" fill="#0000FF"/>
<rect x="1275.9" y="1932.1" width="50.7" height="22" fill="#228B22"/>
<rect x="1326.6" y="1932.1" width="28.8" height="22" fill="#FFFF00"/>
<rect x="1355.4" y="1932.1" width="63.8" height="22" fill="#FF0000"/>
<rect x="1245.3" y="1977" width="26.4" height="22" fill="#0000FF"/>
<rect x="1271.7" y="1977" width="125.1" height="22" fill="#228B22"/>
<rect x="1396.8" y="1977" width="48.9" height="22" fill="#FFFF00"/>
<rect x="1445.7" y="1977" width="157.1" height="22" fill="#FF0000"/>
<rect x="1245.3" y="2021.9" width="1.6" height="22" fill="#0000FF"/>
<rect x="1246.9" y="2021.9" width="0.1" height="22" fill="#228B22"/>
<rect x="1247" y="2021.9" width="1.6" height="22" fill="#FFFF00"/>
<rect x="1248.6" y="2021.9" width="2.2" height="22" fill="#FF0000"/>
<rect x="1245.3" y="2066.8" width="2.8" height="22" fill="#0000FF"/>
<rect x="1248.1" y="2066.8" width="0.2" height="22" fill="#228B22"/>
<rect x="1248.3" y="2066.8" width="3.7" height="22" fill="#FFFF00"/>
<rect x="1252" y="2066.8" width="2.8" height="22" fill="#FF0000"/>
<rect x="1245.3" y="2111.7" width="2.5" height="22" fill="#0000FF"/>
<rect x="1247.8" y="2111.7" width="1.7" height="22" fill="#228B22"/>
<rect x="1249.5" y="2111.7" width="4.1" height="22" fill="#FFFF00"/>
<rect x="1253.6" y="2111.7" width="3.9" height="22" fill="#FF0000"/>
<rect x="1245.3" y="2156.6" width="2.8" height="22" fill="#0000FF"/>
<rect x="1248.1" y="2156.6" width="7.2" height="22" fill="#228B22"/>
<rect x="1255.3" y="2156.6" width="3.4" height="22" fill="#FFFF00"/>
<rect x="1258.7" y="2156.6" width="10.1" height="22" fill="#FF0000"/>
<rect x="1245.3" y="2201.5" width="0.2" height="22" fill="#0000FF"/>
<rect x="1245.5" y="2201.5" width="3.9" height="22" fill="#228B22"/>
<rect x="1249.4" y="2201.5" width="1.7" height="22" fill="#FFFF00"/>
<rect x="1251.1" y="2201.5" width="4.2" height="22" fill="#FF0000"/>
<rect x="1245.3" y="2246.4" width="2.8" height="22" fill="#0000FF"/>
<rect x="1248.1" y="2246.4" width="7.7" height="22" fill="#228B22"/>
<rect x="1255.8" y="2246.4" width="6.2" height="22" fill="#FFFF00"/>
<rect x="1262" y="2246.4" width="9.6" height="22" fill="#FF0000"/>
<rect x="1245.3" y="2291.3" width="2.1" height="22" fill="#0000FF"/>
<rect x="1247.4" y="2291.3" width="0.2" height="22" fill="#228B22"/>
<rect x="1247.6" y="2291.3" width="1.8" height="22" fill="#FFFF00"/>
<rect x="1249.4" y="2291.3" width="2.6" height="22" fill="#FF0000"/>
<rect x="1245.3" y="2336.2" width="2.1" height="22" fill="#0000FF"/>
<rect x="1247.4" y="2336.2" width="0.2" height="22" fill="#228B22"/>
<rect x="1247.6" y="2336.2" width="1.5" height="22" fill="#FFFF00"/>
<rect x="1249.1" y="2336.2" width="2" height="22" fill="#FF0000"/>
</g>
<g stroke="#222" stroke-width="2" fill="none">
<line x1="15.2" y1="2426.2" x2="848" y2="2426.2"/>
<line x1="15.4" y1="2417.5" x2="15.4" y2="2426.2"/>
<line x1="122.63" y1="2417.5" x2="122.63" y2="2426.2"/>
<line x1="229.86" y1="2417.5" x2="229.86" y2="2426.2"/>
<line x1="337.09" y1="2417.5" x2="337.09" y2="2426.2"/>
<line x1="444.32" y1="2417.5" x2="444.32" y2="2426.2"/>
<line x1="551.55" y1="2417.5" x2="551.55" y2="2426.2"/>
<line x1="658.78" y1="2417.5" x2="658.78" y2="2426.2"/>
<line x1="766.01" y1="2417.5" x2="766.01" y2="2426.2"/>
<line x1="848" y1="2417.5" x2="848" y2="2426.2"/>
</g>
<g font-family="Liberation Sans, Arial, sans-serif" font-size="20" fill="#222" text-anchor="middle">
<text x="15.7" y="2457.7" textLength="30.58" lengthAdjust="spacingAndGlyphs">0.0</text>
<text x="122.93" y="2457.7" textLength="30.58" lengthAdjust="spacingAndGlyphs">0.1</text>
<text x="230.16" y="2457.7" textLength="30.58" lengthAdjust="spacingAndGlyphs">0.2</text>
<text x="337.39" y="2457.7" textLength="30.58" lengthAdjust="spacingAndGlyphs">0.3</text>
<text x="444.62" y="2457.7" textLength="30.58" lengthAdjust="spacingAndGlyphs">0.4</text>
<text x="551.85" y="2457.7" textLength="30.58" lengthAdjust="spacingAndGlyphs">0.5</text>
<text x="659.08" y="2457.7" textLength="30.58" lengthAdjust="spacingAndGlyphs">0.6</text>
<text x="766.31" y="2457.7" textLength="30.58" lengthAdjust="spacingAndGlyphs">0.7</text>
</g>
<g stroke="#555" stroke-width="1.5" fill="none">
<line x1="1244.3" y1="2429.8" x2="1647" y2="2429.8"/>
<line x1="1244.3" y1="2420" x2="1244.3" y2="2429.8"/>
<line x1="1284.57" y1="2420" x2="1284.57" y2="2429.8"/>
<line x1="1324.84" y1="2420" x2="1324.84" y2="2429.8"/>
<line x1="1365.11" y1="2420" x2="1365.11" y2="2429.8"/>
<line x1="1405.38" y1="2420" x2="1405.38" y2="2429.8"/>
<line x1="1445.65" y1="2420" x2="1445.65" y2="2429.8"/>
<line x1="1485.92" y1="2420" x2="1485.92" y2="2429.8"/>
<line x1="1526.19" y1="2420" x2="1526.19" y2="2429.8"/>
<line x1="1566.46" y1="2420" x2="1566.46" y2="2429.8"/>
<line x1="1606.73" y1="2420" x2="1606.73" y2="2429.8"/>
<line x1="1647" y1="2420" x2="1647" y2="2429.8"/>
</g>
<g font-family="Liberation Sans, Arial, sans-serif" font-size="19.5" fill="#222" text-anchor="middle">
<text x="1245.3" y="2460.2">0k</text>
<text x="1325.84" y="2460.2">40k</text>
<text x="1406.38" y="2460.2">80k</text>
<text x="1486.92" y="2460.2">120k</text>
<text x="1567.46" y="2460.2">160k</text>
<text x="1648" y="2460.2">200k</text>
</g>
<g font-family="Liberation Sans, Arial, sans-serif" fill="#000" stroke="#000" stroke-width="0.25">
<text x="1670" y="122.8" font-size="25.5">Bar Groups</text>
<rect x="1689.2" y="147.4" width="30.3" height="10" fill="#0000FF" stroke="none"/>
<text x="1740.6" y="157.3" font-size="25.2">CS</text>
<rect x="1689.2" y="187.8" width="30.3" height="10" fill="#228B22" stroke="none"/>
<text x="1740.6" y="197.7" font-size="25.2">CP</text>
<rect x="1689.2" y="228.2" width="30.3" height="10" fill="#FFFF00" stroke="none"/>
<text x="1740.6" y="238.1" font-size="25.2">TS</text>
<rect x="1689.2" y="268.6" width="30.3" height="10" fill="#FF0000" stroke="none"/>
<text x="1740.6" y="278.5" font-size="25.2">TP</text>
<text x="1669.7" y="340" font-size="25.5">Taxa</text>
<rect x="1689.2" y="365.3" width="30.3" height="10" fill="#FF0000" stroke="none"/>
<text x="1750.2" y="375.2" font-size="25" textLength="152.63" lengthAdjust="spacingAndGlyphs">Actinobacteria</text>
<rect x="1689.2" y="405.7" width="30.3" height="10" fill="#0000FF" stroke="none"/>
<text x="1750.2" y="415.6" font-size="25" textLength="113.94" lengthAdjust="spacingAndGlyphs">Firmicutes</text>
<rect x="1689.2" y="446.1" width="30.3" height="10" fill="#228B22" stroke="none"/>
<text x="1750.2" y="456" font-size="25" textLength="150.6" lengthAdjust="spacingAndGlyphs">Bacteroidetes</text>
<rect x="1689.2" y="486.5" width="30.3" height="10" fill="#FFFF00" stroke="none"/>
<text x="1750.2" y="496.4" font-size="25" textLength="145.26" lengthAdjust="spacingAndGlyphs">Spirochaetae</text>
<rect x="1689.2" y="526.9" width="30.3" height="10" fill="#800080" stroke="none"/>
<text x="1750.2" y="536.8" font-size="25" textLength="183.46" lengthAdjust="spacingAndGlyphs">Saccharibacteria</text>
<rect x="1689.2" y="567.3" width="30.3" height="10" fill="#FF4500" stroke="none"/>
<text x="1750.2" y="577.2" font-size="25" textLength="142.7" lengthAdjust="spacingAndGlyphs">Fusobacteria</text>
<rect x="1689.2" y="607.7" width="30.3" height="10" fill="#4169E1" stroke="none"/>
<text x="1750.2" y="617.6" font-size="25" textLength="158.96" lengthAdjust="spacingAndGlyphs">Proteobacteria</text>
<rect x="1689.2" y="648.1" width="30.3" height="10" fill="#FFA500" stroke="none"/>
<text x="1750.2" y="658" font-size="25" textLength="289.42" lengthAdjust="spacingAndGlyphs">SR1__Absconditabacteria</text>
</g>
</svg>
</body></html>
